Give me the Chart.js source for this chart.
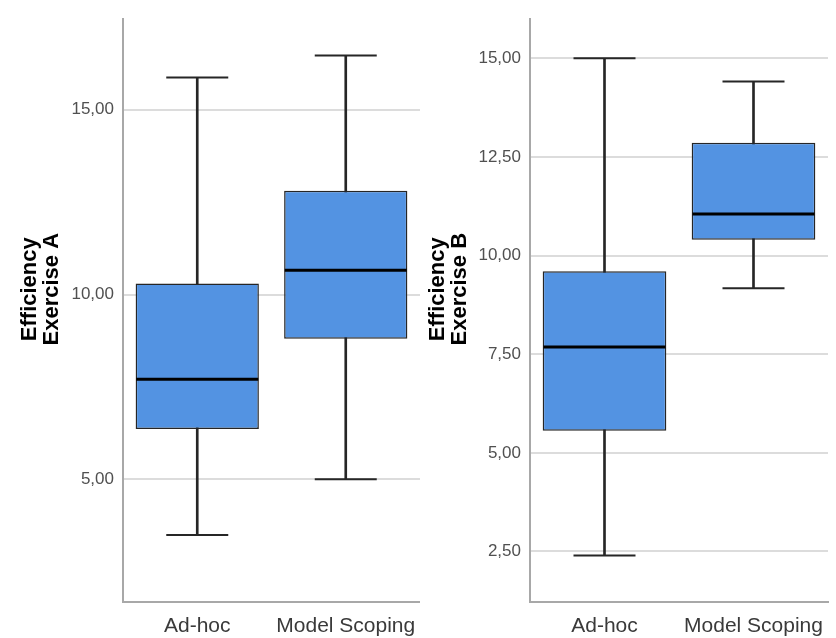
<!DOCTYPE html>
<html>
<head>
<meta charset="utf-8">
<script src="https://cdn.jsdelivr.net/npm/chart.js@4"></script>
<style>
  body { margin: 0; background: #fff; }
  #wrap { position: relative; width: 836px; height: 638px; }
  .box { position: absolute; top: 0; height: 638px; }
  #boxA { left: 0; width: 420px; }
  #boxB { left: 420px; width: 416px; }
</style>
</head>
<body>
<div id="wrap">
  <div class="box" id="boxA"><canvas id="chartA"></canvas></div>
  <div class="box" id="boxB"><canvas id="chartB"></canvas></div>
</div>
<script>
// data
const groups = ['Ad-hoc', 'Model Scoping'];

// Exercise A
const minA = [3.49, 5.0];
const q1A = [6.36, 8.80];
const medA = [7.71, 10.66];
const q3A = [10.30, 12.81];
const maxA = [15.87, 16.47];
const ticksA = [5, 10, 15];

// Exercise B
const minB = [2.40, 9.17];
const q1B = [5.56, 10.40];
const medB = [7.68, 11.05];
const q3B = [9.60, 12.86];
const maxB = [15.0, 14.41];
const ticksB = [2.5, 5, 7.5, 10, 12.5, 15];

const boxBlue = '#5393e2';
const dark = '#262626';

// leading spaces nudge the rotated axis title a bit upwards, like SPSS does
const nudge = '       ';

function pairs(a, b) {
    return a.map((v, i) => [v, b[i]]);
}

function makeBoxplot(canvasId, o) {
    const ctx = document.getElementById(canvasId).getContext('2d');
    return new Chart(ctx, {
        type: 'bar',
        data: {
            labels: groups,
            datasets: [
                // whisker stem, drawn under the box
                {
                    data: pairs(o.min, o.max),
                    backgroundColor: dark,
                    barThickness: 2,
                    grouped: false,
                    order: 3
                },
                // box q1..q3
                {
                    data: pairs(o.q1, o.q3),
                    backgroundColor: boxBlue,
                    borderColor: dark,
                    borderWidth: 1.5,
                    borderSkipped: false,
                    barPercentage: 0.83,
                    categoryPercentage: 1,
                    grouped: false,
                    order: 2
                },
                // median
                {
                    type: 'line',
                    data: o.med,
                    showLine: false,
                    pointStyle: 'line',
                    pointRadius: 61,
                    pointBorderWidth: 3,
                    pointBorderColor: '#000',
                    order: 0
                },
                // caps
                {
                    type: 'line',
                    data: o.max,
                    showLine: false,
                    pointStyle: 'line',
                    pointRadius: 31,
                    pointBorderWidth: 2,
                    pointBorderColor: dark,
                    order: 1
                },
                {
                    type: 'line',
                    data: o.min,
                    showLine: false,
                    pointStyle: 'line',
                    pointRadius: 31,
                    pointBorderWidth: 2,
                    pointBorderColor: dark,
                    order: 1
                }
            ]
        },
        options: {
            responsive: true,
            maintainAspectRatio: false,
            animation: false,
            events: [],
            layout: {
                autoPadding: false,
                padding: { top: 9, right: o.padRight, left: 0, bottom: 0 }
            },
            plugins: {
                legend: { display: false },
                tooltip: { enabled: false }
            },
            scales: {
                x: {
                    grid: { display: false, drawTicks: false },
                    border: { color: '#a8a8a8', width: 2 },
                    ticks: {
                        color: '#3a3a3a',
                        padding: 12,
                        maxRotation: 0,
                        autoSkip: false,
                        font: { family: 'Liberation Sans, Arial', size: 21 }
                    },
                    afterFit: (scale) => {
                        scale.height = 36;
                        // let the long label hang over the edge instead of shrinking the plot
                        scale.paddingLeft = 0;
                        scale.paddingRight = 0;
                    }
                },
                y: {
                    min: o.yMin,
                    max: o.yMax,
                    afterBuildTicks: (scale) => {
                        scale.ticks = o.ticks.map(v => ({ value: v }));
                    },
                    afterFit: (scale) => { scale.width = o.axisWidth; },
                    grid: { color: '#dcdcdc', lineWidth: 2, drawTicks: false },
                    border: { color: '#a8a8a8', width: 2 },
                    ticks: {
                        color: '#505050',
                        padding: 9,
                        font: { family: 'Liberation Sans, Arial', size: 17 },
                        callback: (v) => v.toFixed(2).replace('.', ',')
                    },
                    title: {
                        display: true,
                        text: o.title.map(t => nudge + t),
                        color: '#000',
                        padding: { top: o.titlePad, bottom: 0 },
                        font: { family: 'Liberation Sans, Arial', size: 22, weight: 'bold', lineHeight: 1.0 }
                    }
                }
            }
        }
    });
}

makeBoxplot('chartA', {
    min: minA, q1: q1A, med: medA, q3: q3A, max: maxA,
    ticks: ticksA, yMin: 1.68, yMax: 17.45,
    title: ['Efficiency', 'Exercise A'],
    axisWidth: 123, titlePad: 19, padRight: 0
});

makeBoxplot('chartB', {
    min: minB, q1: q1B, med: medB, q3: q3B, max: maxB,
    ticks: ticksB, yMin: 1.22, yMax: 15.99,
    title: ['Efficiency', 'Exercise B'],
    axisWidth: 110, titlePad: 7, padRight: 8
});
</script>
</body>
</html>
